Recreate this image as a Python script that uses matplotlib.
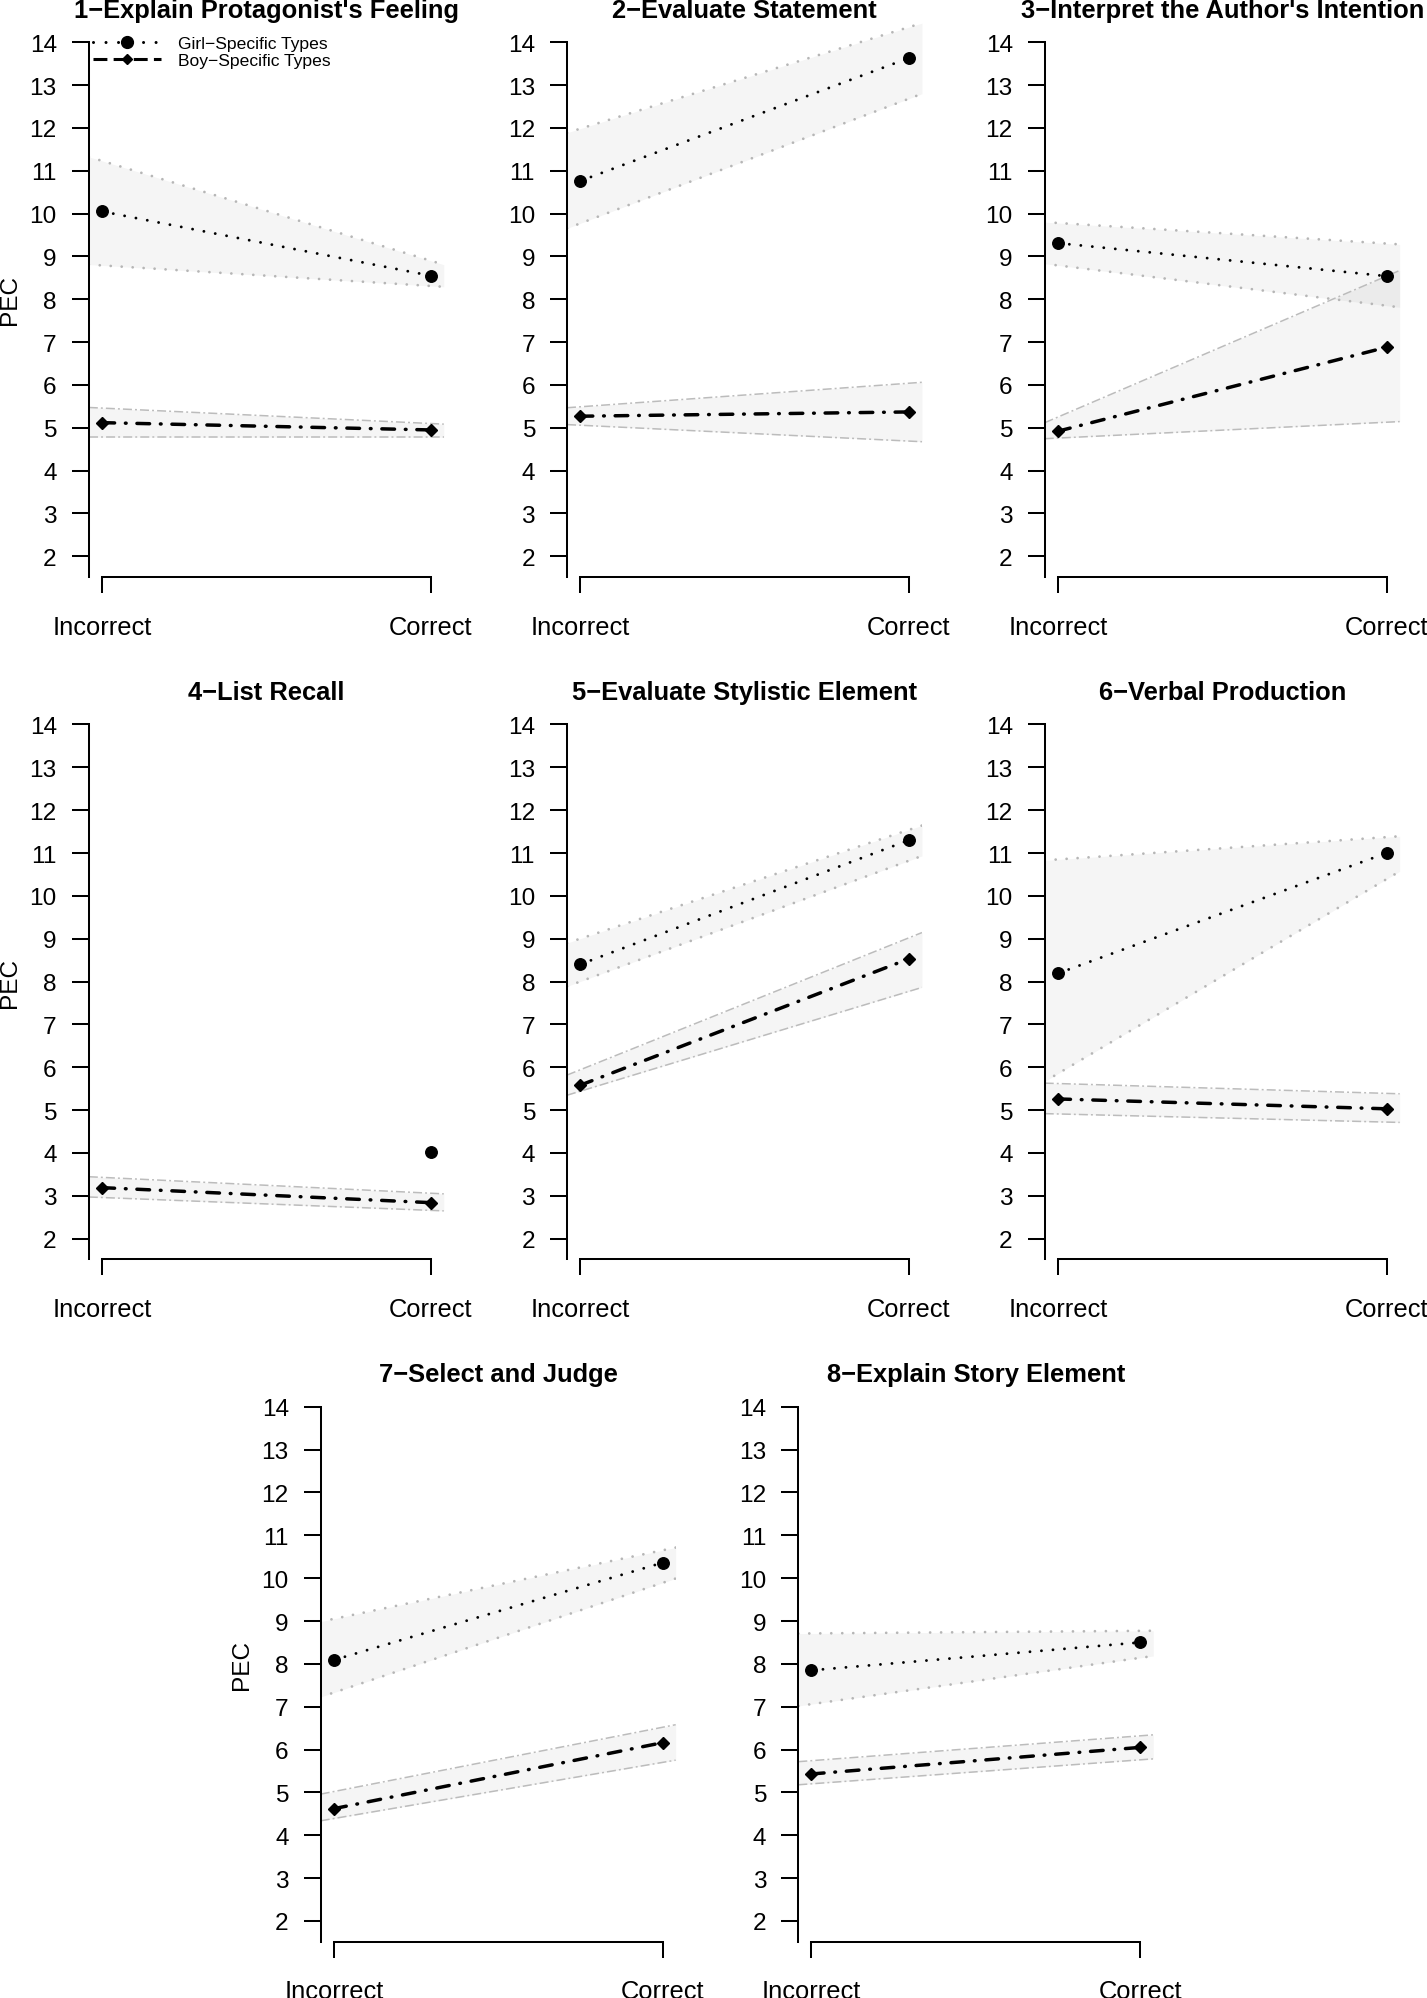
"""
PEC by answer correctness, girl vs boy specific types (8 item types)
"""

import numpy as np
import matplotlib
matplotlib.use('Agg')
import matplotlib.pyplot as plt
from matplotlib.lines import Line2D

plt.rcParams['font.family'] = ['Liberation Sans', 'DejaVu Sans']
plt.rcParams['lines.scale_dashes'] = False

# ---- data ----
categories = ['Incorrect', 'Correct']
titles = ["1\u2212Explain Protagonist's Feeling", "2\u2212Evaluate Statement",
          "3\u2212Interpret the Author's Intention", "4\u2212List Recall",
          "5\u2212Evaluate Stylistic Element", "6\u2212Verbal Production",
          "7\u2212Select and Judge", "8\u2212Explain Story Element"]

girl_mean = [[10.05, 8.55], [10.76, 13.63], [9.31, 8.54], [np.nan, 4.03],
             [8.40, 11.30], [8.19, 11.00], [8.09, 10.36], [7.85, 8.50]]
girl_lower = [[8.79, 8.31], [9.77, 12.68], [8.79, 7.85], [np.nan, np.nan],
              [8.00, 10.82], [5.85, 10.39], [7.33, 9.89], [7.06, 8.14]]
girl_upper = [[11.23, 8.90], [11.98, 14.35], [9.78, 9.30], [np.nan, np.nan],
              [9.00, 11.54], [10.85, 11.37], [9.05, 10.65], [8.71, 8.77]]

boy_mean = [[5.12, 4.95], [5.27, 5.37], [4.92, 6.88], [3.19, 2.84],
            [5.58, 8.53], [5.26, 5.03], [4.62, 6.16], [5.43, 6.05]]
boy_lower = [[4.78, 4.78], [5.06, 4.69], [4.76, 5.13], [2.96, 2.66],
             [5.44, 7.77], [4.91, 4.72], [4.39, 5.70], [5.20, 5.76]]
boy_upper = [[5.46, 5.10], [5.49, 6.04], [5.25, 8.54], [3.43, 3.06],
             [5.94, 9.02], [5.62, 5.39], [5.02, 6.52], [5.74, 6.32]]

yticks = list(range(2, 15))

# ---- layout (pixels: left, top, width, height) ----
W, H = 1427, 1999
row_top = [22.6, 704.9, 1387.2]
ph = 555.3
pw = 355
panels = [(88.8, row_top[0]), (567, row_top[0]), (1044.7, row_top[0]),
          (88.8, row_top[1]), (567, row_top[1]), (1044.7, row_top[1]),
          (320.7, row_top[2]), (798.3, row_top[2])]
with_ylabel = [0, 3, 6]

girl_ls = (0, (0.01, 8.3))
boy_ls = (0, (9.1, 7.8, 0.5, 7.8))
band_color = '#808080'
girl_edge = '#b6b6b6'
boy_edge = '#bcbcbc'

fig = plt.figure(figsize=(W / 100, H / 100), dpi=100)

x = np.array([1, 2])
xlim = (0.96, 2.04)
ylim = (1.52, 14.48)
xe = np.array(xlim)


def extend(v):
    # straight band edge carried out to the plot borders
    v = np.asarray(v, float)
    return v[0] + (v[1] - v[0]) * (xe - 1)


for i, (l, t) in enumerate(panels):
    ax = fig.add_axes([l / W, 1 - (t + ph) / H, pw / W, ph / H])
    ax.set_xlim(*xlim)
    ax.set_ylim(*ylim)

    # confidence bands
    if not np.isnan(girl_lower[i][0]):
        lo, hi = extend(girl_lower[i]), extend(girl_upper[i])
        ax.fill_between(xe, lo, hi, color=band_color, alpha=0.08, lw=0)
        for e in (lo, hi):
            ax.plot(xe, e, color=girl_edge, lw=2.0, ls=(0, (0.01, 7.9)),
                    dash_capstyle='round')
    lo, hi = extend(boy_lower[i]), extend(boy_upper[i])
    ax.fill_between(xe, lo, hi, color=band_color, alpha=0.08, lw=0)
    for e in (lo, hi):
        ax.plot(xe, e, color=boy_edge, lw=1.1, ls=(0, (6.5, 2.2, 1.4, 2.2)))

    # means
    ax.plot(x, girl_mean[i], color='black', lw=2.1, ls=girl_ls,
            dash_capstyle='round', marker='o', ms=8.3)
    ax.plot(x, boy_mean[i], color='black', lw=2.5, ls=boy_ls,
            dash_capstyle='round', marker='D', ms=5.9)

    ax.set_title(titles[i], fontsize=18.4, fontweight='bold', pad=0.5)

    for s in ('top', 'right'):
        ax.spines[s].set_visible(False)
    ax.spines['left'].set_bounds(ylim[0], 14)
    ax.spines['left'].set_linewidth(1.45)
    ax.spines['bottom'].set_bounds(1, 2)
    ax.spines['bottom'].set_linewidth(1.45)

    ax.set_yticks(yticks)
    ax.set_xticks(x)
    ax.set_xticklabels(categories)
    ax.tick_params(axis='y', labelsize=17.6, length=12, width=1.45, pad=11)
    ax.tick_params(axis='x', labelsize=18.4, length=11.3, width=1.45, pad=16)

    if i in with_ylabel:
        ax.text(-79.1 / pw, 0.5, 'PEC', rotation=90, ha='center',
                va='center', fontsize=17.6, transform=ax.transAxes)

    if i == 0:
        handles = [Line2D([], [], color='black', lw=2.2, ls=(0, (0.01, 9)),
                          dash_capstyle='round', marker='o', ms=8.5),
                   Line2D([], [], color='black', lw=2.2, ls=(0, (10, 4.5)),
                          marker='D', ms=5.6)]
        ax.legend(handles, ['Girl\u2212Specific Types', 'Boy\u2212Specific Types'],
                  loc='upper left', bbox_to_anchor=(0, 0.982), borderaxespad=0,
                  borderpad=0.24, frameon=False, fontsize=12.6, handlelength=3.9,
                  handletextpad=0.97, labelspacing=0.1)

fig.savefig('out.png', dpi=100)
